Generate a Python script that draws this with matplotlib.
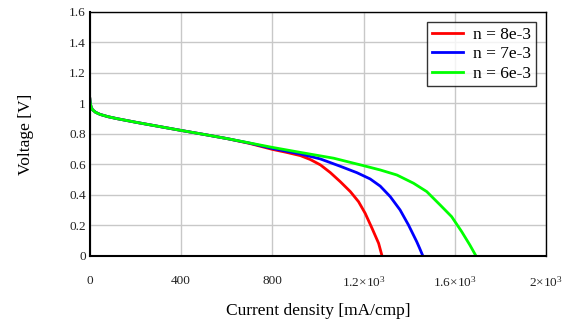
import matplotlib
matplotlib.use("Agg")
import matplotlib.pyplot as plt
from matplotlib.ticker import FixedLocator, FixedFormatter

plt.rcParams["font.family"] = ["Liberation Serif", "DejaVu Serif"]
plt.rcParams["mathtext.fontset"] = "custom"
plt.rcParams["mathtext.rm"] = "Liberation Serif"
plt.rcParams["mathtext.default"] = "regular"

# polarization curves (current density, voltage)
j_common = [0, 2, 6, 12, 25, 45, 80, 120, 200, 300, 400, 500, 600]
v_common = [1.03, 1.0, 0.975, 0.958, 0.942, 0.928, 0.913, 0.9, 0.877, 0.85,
            0.823, 0.797, 0.77]

j_8e3 = j_common + [700, 800, 860, 923, 967, 1011, 1054, 1098, 1142, 1178,
                    1207, 1237, 1266, 1281]
v_8e3 = v_common + [0.738, 0.699, 0.680, 0.658, 0.632, 0.597, 0.547, 0.487,
                    0.422, 0.356, 0.280, 0.182, 0.083, 0.0]

j_7e3 = j_common + [700, 800, 923, 1011, 1098, 1171, 1229, 1273, 1317, 1360,
                    1397, 1433, 1446, 1460]
v_7e3 = v_common + [0.740, 0.705, 0.669, 0.636, 0.588, 0.546, 0.505, 0.458,
                    0.389, 0.302, 0.203, 0.094, 0.05, 0.0]

j_6e3 = j_common + [700, 800, 923, 1069, 1200, 1273, 1346, 1419, 1477, 1536,
                    1586, 1630, 1666, 1693]
v_6e3 = v_common + [0.741, 0.712, 0.679, 0.641, 0.592, 0.564, 0.531, 0.477,
                    0.422, 0.334, 0.258, 0.160, 0.072, 0.0]

x_ticks = [0, 400, 800, 1200, 1600, 2000]
x_labels = ["0", "400", "800", "1.2×10$^3$", "1.6×10$^3$", "2×10$^3$"]
y_ticks = [0, 0.2, 0.4, 0.6, 0.8, 1.0, 1.2, 1.4, 1.6]
y_labels = ["0", "0.2", "0.4", "0.6", "0.8", "1", "1.2", "1.4", "1.6"]

fig = plt.figure(figsize=(5.76, 3.22), dpi=100)
ax = fig.add_axes([0.156, 0.205, 0.792, 0.758])

ax.plot(j_8e3, v_8e3, color="#ff0000", lw=2, label="n = 8e-3")
ax.plot(j_7e3, v_7e3, color="#0000ff", lw=2, label="n = 7e-3")
ax.plot(j_6e3, v_6e3, color="#00ff00", lw=2, label="n = 6e-3")

ax.set_xlim(0, 2000)
ax.set_ylim(0, 1.6)
ax.xaxis.set_major_locator(FixedLocator(x_ticks))
ax.xaxis.set_major_formatter(FixedFormatter(x_labels))
ax.yaxis.set_major_locator(FixedLocator(y_ticks))
ax.yaxis.set_major_formatter(FixedFormatter(y_labels))
ax.tick_params(length=0, labelsize=9.5, colors="#222222")
ax.tick_params(axis="x", pad=14)
ax.tick_params(axis="y", pad=3)
ax.grid(True, color="#c8c8c8", lw=1)
ax.set_axisbelow(True)
for s in ax.spines.values():
    s.set_color("black")
    s.set_linewidth(1.0)
ax.spines["left"].set_linewidth(1.5)
ax.spines["bottom"].set_linewidth(1.5)

ax.set_xlabel("Current density [mA/cmp]", fontsize=12.5, labelpad=9)
ax.set_ylabel("Voltage [V]", fontsize=12.5, labelpad=25)

leg = ax.legend(loc="upper right", fontsize=12.5, frameon=True, fancybox=False,
                edgecolor="black", handlelength=1.8, borderaxespad=0.6,
                labelspacing=0.2, borderpad=0.25, handletextpad=0.6)
leg.get_frame().set_linewidth(1.0)

fig.savefig("out.png", dpi=100)
